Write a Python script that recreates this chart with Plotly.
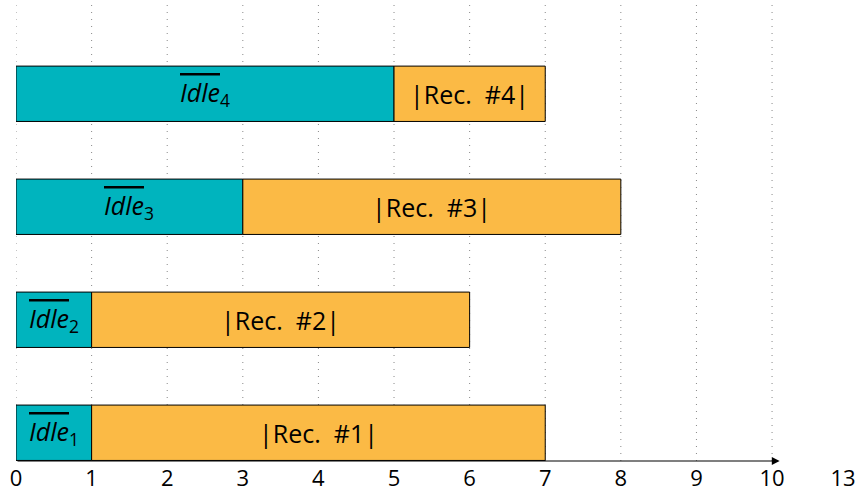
import plotly.graph_objects as go

# Data
rows = ["1", "2", "3", "4"]
idle = [1, 1, 3, 5]
rec = [6, 5, 5, 2]
idle_labels = ["Idle", "Idle", "Idle", "Idle"]
rec_labels = ["|Rec.  #1|", "|Rec.  #2|", "|Rec.  #3|", "|Rec.  #4|"]
grid_vals = list(range(0, 11))
tick_vals = list(range(0, 11)) + [10.94]
tick_text = [str(v) for v in range(0, 11)] + ["13"]

TEAL = "#00B4BE"
ORANGE = "#FBBA45"
FONT = "Open Sans"

ypos = list(range(len(rows)))

fig = go.Figure()
fig.add_trace(go.Bar(
    y=ypos, x=idle, orientation="h", marker=dict(color=TEAL, line=dict(color="black", width=1)),
    width=0.49, hoverinfo="skip", showlegend=False,
))
fig.add_trace(go.Bar(
    y=ypos, x=rec, base=idle, orientation="h", marker=dict(color=ORANGE, line=dict(color="black", width=1)),
    width=0.49, hoverinfo="skip", showlegend=False,
))

annotations = []
for i, (a, b) in enumerate(zip(idle, rec)):
    annotations.append(dict(
        x=a / 2, y=i, xref="x", yref="y", showarrow=False,
        text=f"<span style='text-decoration: overline'><i>{idle_labels[i]}</i></span><sub>{rows[i]}</sub>",
        font=dict(size=25, color="black", family=FONT),
    ))
    annotations.append(dict(
        x=a + b / 2, y=i, xref="x", yref="y", showarrow=False,
        text=rec_labels[i].replace("  ", "&nbsp;&nbsp;"),
        font=dict(size=25, color="black", family=FONT),
    ))

# axis arrow
annotations.append(dict(
    x=10.1, y=-0.25, ax=0, ay=-0.25, xref="x", yref="y", axref="x", ayref="y",
    showarrow=True, arrowhead=2, arrowsize=1.3, arrowwidth=1.2, arrowcolor="black", text="",
))

shapes = []
for g in grid_vals:
    shapes.append(dict(type="line", xref="x", yref="y", x0=g, x1=g, y0=-0.25, y1=3.83,
                       line=dict(color="#888", width=1, dash="1px,6px"), layer="below"))

fig.update_layout(
    width=859, height=492,
    margin=dict(l=16, r=0, t=0, b=31),
    plot_bgcolor="white", paper_bgcolor="white",
    barmode="overlay",
    annotations=annotations, shapes=shapes,
    font=dict(family=FONT, size=21, color="black"),
    xaxis=dict(range=[0, 11.15], tickvals=tick_vals, ticktext=tick_text, showgrid=False,
               zeroline=False, showline=False, ticks="", tickfont=dict(size=22), ticklabelstandoff=2,
               automargin=False),
    yaxis=dict(range=[-0.25, 3.83], showgrid=False, zeroline=False, showticklabels=False,
               showline=False, ticks="", automargin=False),
)
fig.write_html("out.html", config={"displayModeBar": False},
               post_script="document.body.style.margin='0';document.body.style.padding='0';")
